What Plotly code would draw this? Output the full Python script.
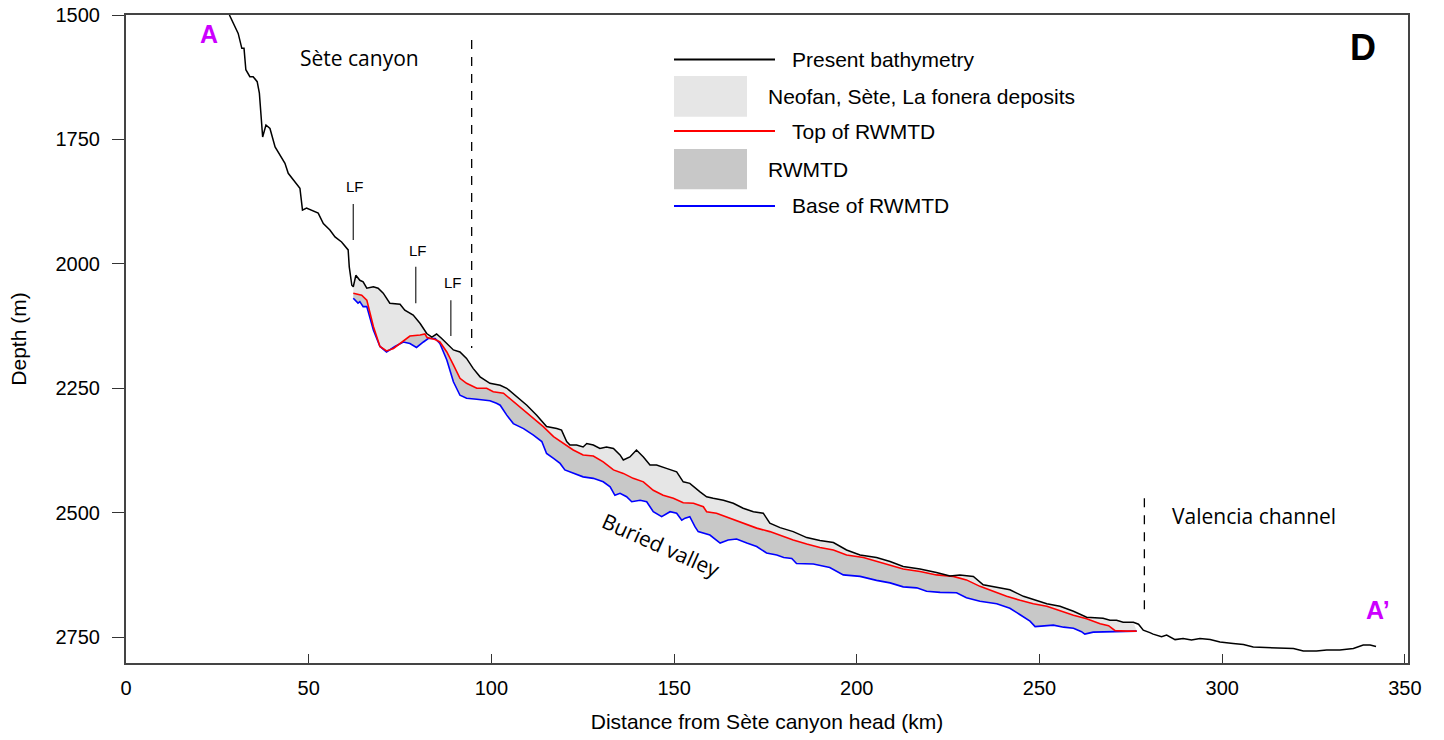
import plotly.graph_objects as go

# ---------------- data ----------------
bathy_km = [28.3, 29.8, 30.7, 31.7, 32.3, 32.8, 33.9, 34.8, 35.9, 36.5, 37.4, 38.3, 39.4, 40.8,
            42.1, 43.5, 44.4, 45.8, 47.6, 48.3, 49.4, 52.6, 54.0, 55.8, 57.2, 59.0, 60.4, 60.8,
            61.1, 61.8, 62.2, 62.9, 64.0, 64.9, 65.9, 67.7, 69.0, 70.4, 72.2, 75.0, 76.3, 78.6,
            80.5, 82.3, 83.7, 85.0, 86.4, 88.2, 89.6, 91.4, 93.2, 95.0, 96.9, 99.6, 102.4, 104.2,
            106.9, 109.7, 112.4, 115.1, 117.9, 119.2, 120.6, 121.5, 123.3, 125.1, 126.1, 127.9,
            129.7, 131.5, 133.4, 135.2, 136.1, 137.9, 139.7, 141.6, 143.4, 145.2, 147.9, 150.7,
            152.5, 154.3, 157.1, 158.9, 160.7, 163.5, 166.2, 168.9, 171.7, 174.4, 176.2, 179.0,
            182.6, 186.3, 189.9, 193.6, 197.2, 200.9, 205.4, 209.1, 212.7, 217.3, 221.8, 225.5,
            228.2, 231.9, 234.6, 238.3, 241.9, 245.6, 248.3, 252.0, 255.6, 259.3, 262.9, 265.6,
            267.4, 269.3, 271.1, 272.9, 275.7, 277.1, 278.4, 280.2, 281.1, 283.4, 284.8, 287.1,
            289.3, 291.6, 293.9, 296.7, 299.4, 303.0, 305.8, 308.5, 312.2, 315.8, 319.5, 322.2,
            325.8, 328.6, 332.2, 335.9, 338.6, 340.5, 342.1]
bathy_depth = [1500, 1523, 1537, 1567, 1567, 1610, 1624, 1624, 1634, 1657, 1745, 1721, 1728, 1765,
               1781, 1798, 1818, 1832, 1848, 1892, 1888, 1898, 1919, 1932, 1946, 1956, 1969, 1972,
               2006, 2043, 2046, 2023, 2033, 2036, 2049, 2046, 2049, 2059, 2079, 2081, 2093, 2103,
               2120, 2140, 2147, 2141, 2150, 2163, 2173, 2177, 2190, 2210, 2227, 2240, 2244, 2250,
               2267, 2284, 2304, 2327, 2331, 2334, 2357, 2364, 2364, 2368, 2361, 2364,
               2371, 2368, 2371, 2384, 2394, 2388, 2374, 2388, 2404, 2404, 2411, 2418,
               2438, 2441, 2458, 2468, 2471, 2475, 2481, 2491, 2498, 2501, 2521, 2530,
               2538, 2550, 2556, 2560, 2575, 2585, 2590, 2598, 2608, 2613, 2620, 2627,
               2625, 2628, 2645, 2650, 2655, 2668, 2674, 2683, 2688, 2698, 2710, 2712,
               2712, 2716, 2716, 2720, 2720, 2724, 2736, 2741, 2744, 2749, 2746, 2755,
               2753, 2756, 2753, 2755, 2760, 2763, 2765, 2770, 2771, 2773, 2773, 2778,
               2778, 2776, 2776, 2773, 2766, 2766, 2769]

top_km = [62.2, 64.5, 65.9, 67.7, 69.5, 71.3, 73.2, 75.5, 77.7, 80.5, 81.8, 82.4, 84.6, 85.9,
          87.8, 89.6, 91.4, 93.2, 96.0, 98.7, 100.5, 103.3, 106.0, 108.8, 111.5, 114.2, 117.0,
          119.7, 122.4, 125.1, 127.9, 130.6, 133.4, 136.1, 138.8, 141.6, 144.3, 147.0, 149.8,
          152.5, 155.3, 158.0, 158.9, 161.6, 165.3, 168.9, 172.6, 176.2, 179.0, 182.6, 186.3,
          189.9, 193.6, 197.2, 201.8, 205.4, 209.1, 212.7, 217.3, 221.8, 226.4, 230.0, 233.7,
          237.4, 241.0, 244.7, 248.3, 252.0, 255.6, 259.3, 262.9, 266.6, 268.9, 270.7, 273.9, 276.6]
top_depth = [2059, 2063, 2073, 2126, 2166, 2175, 2170, 2157, 2145, 2143, 2141, 2148, 2152, 2157,
             2177, 2203, 2230, 2240, 2250, 2250, 2257, 2260, 2277, 2294, 2310, 2327, 2347,
             2360, 2374, 2384, 2386, 2398, 2414, 2421, 2431, 2438, 2455, 2465, 2471,
             2480, 2481, 2488, 2498, 2501, 2511, 2521, 2531, 2538, 2546, 2555, 2563,
             2570, 2575, 2585, 2590, 2598, 2605, 2613, 2618, 2625, 2628, 2635, 2648,
             2658, 2668, 2676, 2683, 2688, 2697, 2706, 2713, 2723, 2727, 2737, 2738, 2738]

base_km = [62.2, 63.5, 64.0, 64.9, 65.9, 67.7, 69.5, 71.3, 73.6, 75.9, 77.7, 79.5, 81.4, 82.7,
           84.6, 85.9, 87.8, 89.6, 91.4, 93.2, 96.0, 99.6, 101.4, 102.4, 104.2, 106.0, 108.8,
           111.5, 113.8, 115.1, 117.0, 118.8, 120.1, 122.4, 125.1, 127.9, 130.6, 132.5, 133.8,
           135.2, 137.0, 138.4, 140.7, 142.5, 144.3, 146.6, 148.9, 150.7, 152.1, 153.0, 154.3,
           155.7, 156.6, 159.8, 162.6, 164.8, 167.1, 169.9, 172.6, 175.3, 178.1, 180.0, 182.2,
           183.5, 188.1, 192.6, 196.3, 200.9, 205.4, 209.1, 212.7, 216.4, 219.1, 222.8, 227.3,
           230.0, 233.7, 238.3, 241.9, 244.7, 247.4, 248.8, 251.1, 253.8, 256.6, 259.3, 261.5,
           262.4, 264.7, 270.2, 276.6]
base_depth = [2069, 2079, 2076, 2086, 2086, 2133, 2166, 2177, 2166, 2157, 2160, 2168, 2157, 2150,
              2150, 2160, 2193, 2237, 2264, 2270, 2272, 2275, 2280, 2284, 2304, 2321, 2331,
              2344, 2357, 2381, 2391, 2401, 2414, 2421, 2428, 2431, 2438, 2448, 2465,
              2461, 2468, 2478, 2475, 2478, 2498, 2508, 2498, 2501, 2515, 2511, 2508,
              2528, 2538, 2545, 2561, 2555, 2553, 2561, 2568, 2581, 2585, 2590, 2592,
              2602, 2603, 2610, 2625, 2628, 2636, 2641, 2649, 2651, 2658, 2660, 2661,
              2671, 2678, 2683, 2692, 2705, 2718, 2729, 2728, 2726, 2730, 2732, 2739,
              2744, 2740, 2739, 2738]

x_ticks = [0, 50, 100, 150, 200, 250, 300, 350]
y_ticks = [1500, 1750, 2000, 2250, 2500, 2750]

# landslide (LF) markers: km, label depth, line top depth, line bottom depth
lf_km = [62.2, 79.3, 88.9]
lf_label_depth = [1844, 1974, 2037]
lf_top = [1880, 2006, 2073]
lf_bottom = [1952, 2079, 2145]

# boundaries (dashed): km, top depth, bottom depth
bound_km = [94.6, 278.7]
bound_top = [1550, 2471]
bound_bottom = [2169, 2696]

LIGHT = "#e6e6e6"
DARK = "#c8c8c8"

fig = go.Figure()

# Neofan / Sète / La fonera deposits: between bathymetry and top of RWMTD
seg = [(k, d) for k, d in zip(bathy_km, bathy_depth) if top_km[0] <= k <= top_km[-1]]
neo_x = [k for k, _ in seg] + top_km[::-1]
neo_y = [d for _, d in seg] + top_depth[::-1]
fig.add_trace(go.Scatter(x=neo_x, y=neo_y, fill="toself", fillcolor=LIGHT,
                         line=dict(width=0), mode="lines", hoverinfo="skip", showlegend=False))

# RWMTD: between top and base
rw_x = top_km + base_km[::-1]
rw_y = top_depth + base_depth[::-1]
fig.add_trace(go.Scatter(x=rw_x, y=rw_y, fill="toself", fillcolor=DARK,
                         line=dict(width=0), mode="lines", hoverinfo="skip", showlegend=False))

fig.add_trace(go.Scatter(x=base_km, y=base_depth, mode="lines",
                         line=dict(color="#0000ff", width=1.6), showlegend=False))
fig.add_trace(go.Scatter(x=top_km, y=top_depth, mode="lines",
                         line=dict(color="#ff0000", width=1.6), showlegend=False))
fig.add_trace(go.Scatter(x=bathy_km, y=bathy_depth, mode="lines",
                         line=dict(color="#000000", width=1.5), showlegend=False))

shapes = []
annotations = []

# dashed boundaries
for k, t, b in zip(bound_km, bound_top, bound_bottom):
    shapes.append(dict(type="line", xref="x", yref="y", x0=k, x1=k, y0=t, y1=b,
                       line=dict(color="#000000", width=1.3, dash="9px,8px")))

# LF markers
for k, ld, t, b in zip(lf_km, lf_label_depth, lf_top, lf_bottom):
    shapes.append(dict(type="line", xref="x", yref="y", x0=k, x1=k, y0=t, y1=b,
                       line=dict(color="#333333", width=1.3)))
    annotations.append(dict(x=k + 0.5, y=ld, xref="x", yref="y", text="LF", showarrow=False,
                            font=dict(family="Liberation Sans", size=15, color="#000000")))

# ---- plot-area pixel box (body margin removed via post_script) ----
W, H = 1444, 740
L, R, T, B = 126, 1408, 15, 663
def px(xp):
    return (xp - L) / (R - L)
def py(yp):
    return (B - yp) / (B - T)

leg_font = dict(family="Liberation Sans", size=21, color="#000000")
line_items = [(59.5, "#000000", "Present bathymetry"),
              (131, "#ff0000", "Top of RWMTD"),
              (206, "#0000ff", "Base of RWMTD")]
for yv, col, txt in line_items:
    shapes.append(dict(type="line", xref="paper", yref="paper", x0=px(674), x1=px(775),
                       y0=py(yv), y1=py(yv), line=dict(color=col, width=2.2)))
    annotations.append(dict(x=px(790), y=py(yv), xref="paper", yref="paper", text=txt,
                            showarrow=False, xanchor="left", yanchor="middle", font=leg_font))
rect_items = [(76, 116.7, LIGHT, "Neofan, Sète, La fonera deposits"),
              (149, 189.3, DARK, "RWMTD")]
for y0, y1, col, txt in rect_items:
    shapes.append(dict(type="rect", xref="paper", yref="paper", x0=px(674), x1=px(747),
                       y0=py(y1), y1=py(y0), fillcolor=col, line=dict(width=0)))
    annotations.append(dict(x=px(766), y=py((y0 + y1) / 2), xref="paper", yref="paper", text=txt,
                            showarrow=False, xanchor="left", yanchor="middle", font=leg_font))

# text labels
lab_font = dict(family="Open Sans", size=21, color="#000000")
annotations += [
    dict(x=63.8, y=1586, xref="x", yref="y", text="Sète canyon", showarrow=False, font=lab_font),
    dict(x=308.7, y=2507, xref="x", yref="y", text="Valencia channel", showarrow=False, font=lab_font),
    dict(x=146.3, y=2565, xref="x", yref="y", text="Buried valley", showarrow=False,
         textangle=24, font=lab_font),
    dict(x=22.8, y=1539, xref="x", yref="y", text="<b>A</b>", showarrow=False,
         font=dict(family="Liberation Sans", size=25, color="#cc00ff")),
    dict(x=342.6, y=2696, xref="x", yref="y", text="<b>A’</b>", showarrow=False,
         font=dict(family="Liberation Sans", size=25, color="#cc00ff")),
    dict(x=338.4, y=1565, xref="x", yref="y", text="<b>D</b>", showarrow=False,
         font=dict(family="Liberation Sans", size=36, color="#000000")),
]

axis_font = dict(family="Liberation Sans", size=20, color="#000000")
fig.update_layout(
    width=W, height=H,
    margin=dict(l=L, r=W - R, t=T, b=H - B, autoexpand=False),
    plot_bgcolor="white", paper_bgcolor="white",
    showlegend=False,
    shapes=shapes, annotations=annotations,
    xaxis=dict(range=[0, 350.85], tickvals=x_ticks, ticks="inside", ticklen=9, tickwidth=1.3,
               tickcolor="#333333", showline=True, linecolor="#444444", linewidth=2, mirror=True,
               showgrid=False, zeroline=False, tickfont=axis_font, automargin=False,
               ticklabelstandoff=6, ticklabeloverflow="allow",
               title=dict(text="Distance from Sète canyon head (km)", standoff=16,
                          font=dict(family="Liberation Sans", size=21, color="#000000"))),
    yaxis=dict(range=[2802, 1500], tickvals=y_ticks, ticks="outside", ticklen=12, tickwidth=1.3,
               tickcolor="#333333", showline=True, linecolor="#444444", linewidth=2, mirror=True,
               showgrid=False, zeroline=False, tickfont=axis_font, automargin=False,
               ticklabelstandoff=8, ticklabeloverflow="allow",
               title=dict(text="Depth (m)", standoff=23,
                          font=dict(family="Liberation Sans", size=21, color="#000000"))),
)

fig.write_html("out.html", config={"displayModeBar": False},
               post_script="document.body.style.margin='0';document.body.style.overflow='hidden';")
